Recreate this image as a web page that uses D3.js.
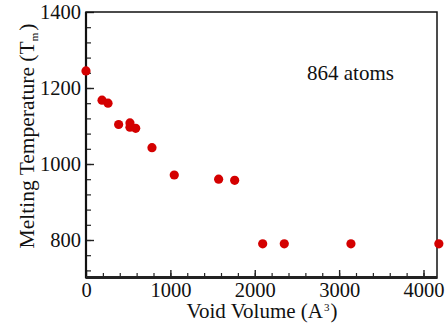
<!DOCTYPE html>
<html>
<head>
<meta charset="utf-8">
<script src="https://cdn.jsdelivr.net/npm/d3@7"></script>
<style>
  body { margin: 0; background: #fff; }
  text { font-family: "Liberation Serif", "Times New Roman", serif; fill: #111; }
</style>
</head>
<body>
<svg width="445" height="328"></svg>
<script>
// void volume (A^3) and melting temperature
var voidVol = [0, 190, 261, 387, 521, 521, 589, 782, 1046, 1572, 1762, 2094, 2350, 3140, 4182];
var meltT   = [1245, 1168, 1160, 1104, 1108, 1097, 1094, 1043, 971, 960, 957, 790, 790, 790, 790];
var xTicks = [0, 1000, 2000, 3000, 4000];
var yTicks = [800, 1000, 1200, 1400];

var svg = d3.select("svg");
var mLeft = 86, mRight = 437, mTop = 12, mBottom = 278;

var x = d3.scaleLinear().domain([0, 4160]).range([mLeft, mRight]);
var y = d3.scaleLinear().domain([700, 1400]).range([mBottom, mTop]);

// minor ticks
svg.append("g").attr("transform", "translate(0," + mBottom + ")")
  .call(d3.axisBottom(x).tickValues(d3.range(200, 4100, 200)).tickSizeInner(-5).tickSizeOuter(0).tickFormat(""))
  .call(function(g){ g.select(".domain").remove(); g.selectAll("line").attr("stroke", "#222").attr("stroke-width", 1.2); });
svg.append("g").attr("transform", "translate(" + mLeft + ",0)")
  .call(d3.axisLeft(y).tickValues(d3.range(720, 1400, 40)).tickSizeInner(-5).tickSizeOuter(0).tickFormat(""))
  .call(function(g){ g.select(".domain").remove(); g.selectAll("line").attr("stroke", "#222").attr("stroke-width", 1.2); });

// major axes
var xAxis = svg.append("g").attr("transform", "translate(0," + mBottom + ")")
  .call(d3.axisBottom(x).tickValues(xTicks).tickFormat(d3.format("d")).tickSizeInner(-8).tickSizeOuter(0).tickPadding(4));
var yAxis = svg.append("g").attr("transform", "translate(" + mLeft + ",0)")
  .call(d3.axisLeft(y).tickValues(yTicks).tickFormat(d3.format("d")).tickSizeInner(-8).tickSizeOuter(0).tickPadding(5));
[xAxis, yAxis].forEach(function(g){
  g.attr("font-size", 20.5);
  g.select(".domain").remove();
  g.selectAll("line").attr("stroke", "#222").attr("stroke-width", 1.4);
  g.selectAll("text").attr("fill", "#111");
});

// frame
svg.append("rect").attr("x", mLeft).attr("y", mTop).attr("width", mRight - mLeft).attr("height", mBottom - mTop)
  .attr("fill", "none").attr("stroke", "#111").attr("stroke-width", 1.5);
svg.append("line").attr("x1", mLeft).attr("x2", mLeft).attr("y1", mTop).attr("y2", mBottom)
  .attr("stroke", "#111").attr("stroke-width", 2.2);
svg.append("line").attr("x1", mLeft).attr("x2", mRight).attr("y1", mBottom - 0.5).attr("y2", mBottom - 0.5)
  .attr("stroke", "#222").attr("stroke-width", 3);

// points
svg.selectAll("circle.pt").data(voidVol).enter().append("circle")
  .attr("class", "pt")
  .attr("cx", function(d){ return x(d); })
  .attr("cy", function(d, i){ return y(meltT[i]); })
  .attr("r", 4.6)
  .attr("fill", "#d40000");

svg.append("text").attr("x", 307).attr("y", 80).attr("font-size", 21).text("864 atoms");

var xl = svg.append("text").attr("x", 262).attr("y", 318).attr("text-anchor", "middle").attr("font-size", 21);
xl.append("tspan").text("Void Volume (A");
xl.append("tspan").attr("font-size", 11).attr("dy", -7).attr("dx", 1).text("3");
xl.append("tspan").attr("dy", 7).attr("dx", 1).text(")");

var yl = svg.append("text").attr("transform", "translate(33.5,136) rotate(-90)").attr("text-anchor", "middle").attr("font-size", 21.5);
yl.append("tspan").text("Melting Temperature (T");
yl.append("tspan").attr("font-size", 11).attr("dy", 4).text("m");
yl.append("tspan").attr("dy", -4).attr("dx", 2).text(")");
</script>
</body>
</html>
